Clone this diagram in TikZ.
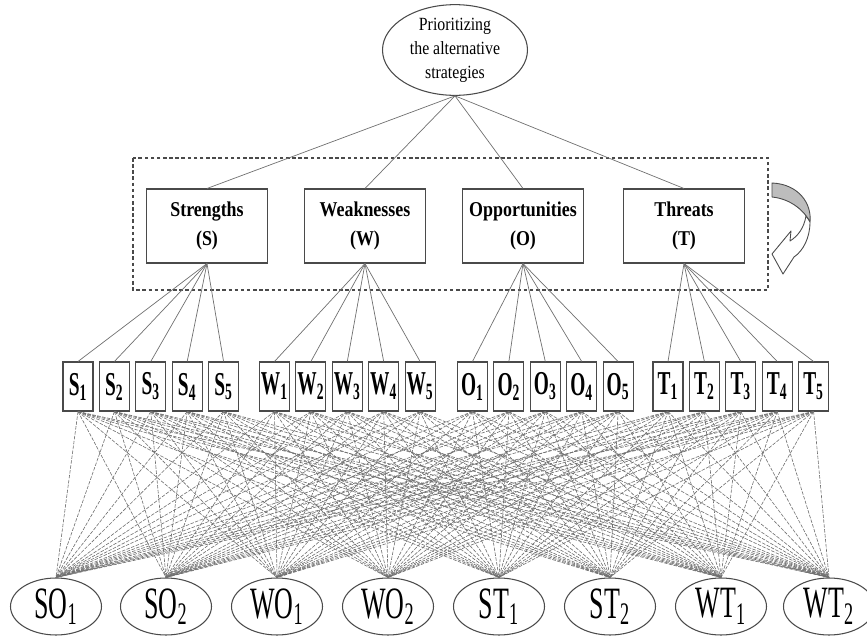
\documentclass[tikz,border=0pt]{standalone}
\usepackage{fontspec}
\setmainfont{Liberation Serif}
\newfontfamily\narrowfont[FakeStretch=0.85]{Liberation Serif}
\newfontfamily\slimfont[FakeStretch=0.58]{Liberation Serif}
\usetikzlibrary{shapes.geometric}
\definecolor{edge}{HTML}{4A4A4A}
\definecolor{wire}{HTML}{707070}
\definecolor{shade}{HTML}{BDBDBD}
\tikzset{
  goal/.style={ellipse, draw=edge, line width=0.6pt, minimum width=2.9cm, minimum height=1.68cm, inner sep=0pt, align=center, font=\narrowfont\fontsize{10.6}{13.6}\selectfont},
  factor/.style={draw=edge, line width=0.6pt, fill=white, minimum width=2.42cm, minimum height=1.48cm, inner sep=0pt, align=center, font=\narrowfont\bfseries\fontsize{12}{16.5}\selectfont},
  sub/.style={draw=edge, line width=0.6pt, fill=white, minimum width=0.6cm, minimum height=0.98cm, inner sep=0pt, font=\slimfont\bfseries\fontsize{19}{20}\selectfont},
  strat/.style={ellipse, draw=edge, line width=0.6pt, fill=white, minimum width=1.82cm, minimum height=1.14cm, inner sep=0pt, font=\slimfont\fontsize{25.5}{28}\selectfont},
  link/.style={draw=wire, line width=0.4pt},
  mesh/.style={draw=wire, line width=0.35pt, dash pattern=on 2pt off 0.8pt},
  frame/.style={draw=edge, line width=0.6pt, dash pattern=on 2pt off 1.5pt},
  turn/.style={draw=edge, line width=0.5pt, line join=round},
}
\begin{document}
\begin{tikzpicture}[x=0.02cm, y=-0.02cm]
  \useasboundingbox (0,0) rectangle (867,636);
  \draw[frame] (133,158) rectangle (768,290);
  \node[goal] (goal) at (455,50) {Prioritizing\\the alternative\\strategies};
  \foreach \f/\fx/\ftext in {S/207/Strengths, W/365/Weaknesses, O/523/Opportunities, T/684/Threats} {
    \node[factor] (\f) at (\fx,226) {\ftext\\(\f)};
    \draw[edge, line width=1.1pt] (\f.south west) -- (\f.south east);
    \draw[link] (goal.south) -- (\f.north);
  }
  \foreach \f/\gx in {S/78, W/274.5, O/472.5, T/668} {
    \foreach \k in {1,...,5} {
      \node[sub] (\f\k) at ({\gx+36.4*(\k-1)},386.5) {\f\textsubscript{\k}};
      \draw[link] (\f.south) -- (\f\k.north);
    }
  }
  \foreach \s/\n/\sx in {SO/1/56, SO/2/166, WO/1/277, WO/2/388, ST/1/499, ST/2/610, WT/1/721, WT/2/829} {
    \node[strat] (\s\n) at (\sx,606.5) {\s\textsubscript{\n}};
  }
  \foreach \f in {S,W,O,T} {
    \foreach \k in {1,...,5} {
      \foreach \s in {SO1,SO2,WO1,WO2,ST1,ST2,WT1,WT2} {
        \draw[mesh] (\f\k.south) -- (\s.north);
      }
    }
  }
  \draw[turn, fill=shade] (772,183) .. controls (798,184) and (812,203) .. (810,222)
    .. controls (805,212) and (792,199) .. (772,197) -- cycle;
  \draw[turn, fill=white] (810,222) .. controls (810,238) and (803,251) .. (794,257)
    -- (783,274) -- (772,254) -- (791,231) -- (790,241)
    .. controls (798,236) and (804,228) .. (806,216)
    .. controls (808,219) and (809,220) .. (810,222);
\end{tikzpicture}
\end{document}
